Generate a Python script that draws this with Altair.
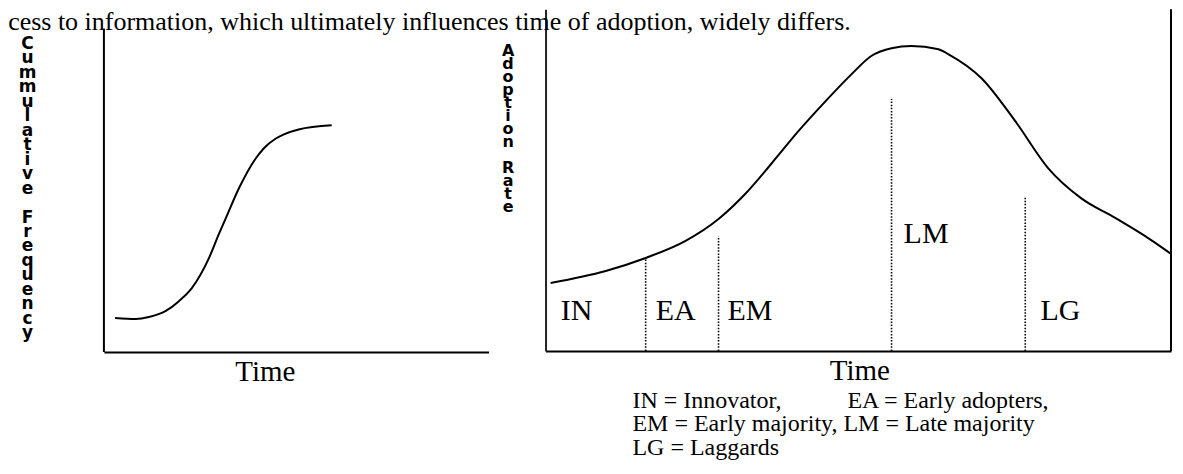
import altair as alt
import pandas as pd

# ---------- data ----------
# Left panel: cumulative frequency (S-curve)
cum_time = [0.29, 0.83, 1.17, 1.61, 1.95, 2.29, 2.73, 2.99, 3.17, 3.51, 3.95, 4.16, 4.47, 4.68, 5.06, 5.92]
cum_freq = [10.5, 10.2, 10.8, 12.7, 15.7, 19.8, 29.0, 36.5, 41.4, 50.6, 59.9, 63.0, 66.0, 67.3, 68.8, 70.1]

# Right panel: adoption rate (bell-shaped curve), ends at the right border
time_max = 9.87
adopt_time = [0.08, 0.95, 1.58, 2.21, 2.73, 3.15, 3.56, 3.99, 4.42, 4.83, 5.14, 5.46, 5.77,
              6.20, 6.36, 6.88, 7.41, 7.93, 8.45, 8.99, 9.51, 9.87]
adopt_rate = [19.9, 23.4, 27.2, 32.2, 38.6, 45.9, 54.7, 64.3, 73.1, 81.0, 86.3, 88.6, 89.2,
              88.3, 86.8, 79.8, 67.3, 53.5, 44.7, 38.9, 33.0, 28.4]

# Adopter categories
seg_codes = ["IN", "EA", "EM", "LM", "LG"]
seg_label_time = [0.24, 1.74, 2.87, 5.65, 7.81]
seg_label_level = [11.7, 11.7, 11.7, 34.2, 11.7]

# Dotted boundaries between categories
bound_time = [1.58, 2.73, 5.46, 7.57]
bound_top = [27.2, 33.6, 73.7, 45.0]

NBSP = "\u00a0"
BLANK = "\u2800"
legend_lines = [
    "IN = Innovator," + NBSP * 11 + "EA = Early adopters,",
    "EM = Early majority, LM = Late majority",
    "LG = Laggards",
]
sentence = "cess to information, which ultimately influences time of adoption, widely differs."
left_ytitle = list("Cummulative") + [BLANK] + list("Frequency")
right_ytitle = list("Adoption") + [BLANK] + list("Rate")

SERIF = "Liberation Serif"
HEAVY = "DejaVu Sans"

# ---------- left panel ----------
cum_df = pd.DataFrame({"t": cum_time, "f": cum_freq})
left_x = alt.Scale(domain=[0, 10], nice=False)
left_y = alt.Scale(domain=[0, 106], nice=False)

left_curve = alt.Chart(cum_df).mark_line(
    color="black", strokeWidth=2, interpolate="monotone"
).encode(
    x=alt.X("t:Q", scale=left_x, axis=alt.Axis(
        domain=True, domainColor="black", domainWidth=2, ticks=False, labels=False,
        grid=False, title="Time", titleFont=SERIF, titleFontSize=29,
        titleFontWeight="normal", titleColor="black", titleX=161, titleAlign="center",
        titlePadding=6)),
    y=alt.Y("f:Q", scale=left_y, axis=alt.Axis(
        domain=False, ticks=False, labels=False, grid=False, title=left_ytitle,
        titleAngle=0, titleFont=HEAVY, titleFontWeight="bold", titleFontSize=17,
        titleLineHeight=14.5, titleX=-77, titleY=26, titleAlign="center",
        titleBaseline="top", titleColor="black")),
)

left_axis_line = alt.Chart(pd.DataFrame({"t": [0], "lo": [0], "hi": [100]})).mark_rule(
    color="black", strokeWidth=2
).encode(x=alt.X("t:Q", scale=left_x), y=alt.Y("lo:Q", scale=left_y), y2="hi:Q")

left = alt.layer(left_curve, left_axis_line).properties(width=385, height=343)

# ---------- right panel ----------
ad_df = pd.DataFrame({"t": adopt_time, "r": adopt_rate})
right_x = alt.Scale(domain=[0, time_max], nice=False)
right_y = alt.Scale(domain=[0, 100], nice=False)

right_curve = alt.Chart(ad_df).mark_line(
    color="black", strokeWidth=2, interpolate="monotone"
).encode(
    x=alt.X("t:Q", scale=right_x, axis=alt.Axis(
        domain=True, domainColor="black", domainWidth=2, ticks=False, labels=False,
        grid=False, title="Time", titleFont=SERIF, titleFontSize=29,
        titleFontWeight="normal", titleColor="black", titleX=314, titleAlign="center",
        titlePadding=6)),
    y=alt.Y("r:Q", scale=right_y, axis=alt.Axis(
        domain=True, domainColor="#222222", domainWidth=2, ticks=False, labels=False,
        grid=False, title=right_ytitle, titleAngle=0, titleFont=HEAVY,
        titleFontWeight="bold", titleFontSize=16, titleLineHeight=13, titleX=-38,
        titleY=33, titleAlign="center", titleBaseline="top", titleColor="black")),
)

bounds_df = pd.DataFrame({"t": bound_time, "lo": [0] * len(bound_time), "hi": bound_top})
bound_lines = alt.Chart(bounds_df).mark_rule(
    color="black", strokeWidth=1.6, strokeDash=[1.5, 1.6]
).encode(x=alt.X("t:Q", scale=right_x), y=alt.Y("lo:Q", scale=right_y), y2="hi:Q")

labels_df = pd.DataFrame({"code": seg_codes, "t": seg_label_time, "lvl": seg_label_level})
seg_labels = alt.Chart(labels_df).mark_text(
    font=SERIF, fontSize=30, color="black", align="left", baseline="middle"
).encode(x=alt.X("t:Q", scale=right_x), y=alt.Y("lvl:Q", scale=right_y), text="code:N")

right_border = alt.Chart(pd.DataFrame({"t": [time_max], "lo": [0], "hi": [100]})).mark_rule(
    color="black", strokeWidth=2
).encode(x=alt.X("t:Q", scale=right_x), y=alt.Y("lo:Q", scale=right_y), y2="hi:Q")

right = alt.layer(right_curve, bound_lines, seg_labels, right_border).properties(
    width=626, height=342,
    title=alt.TitleParams(
        text=legend_lines, orient="bottom", anchor="start", frame="group",
        font=SERIF, fontSize=24, fontWeight="normal", color="black",
        lineHeight=23.5, dx=87, offset=3),
)

chart = alt.hconcat(left, right, spacing=57, bounds="flush").properties(
    title=alt.TitleParams(
        text=sentence, anchor="start", frame="bounds", font=SERIF, fontSize=26,
        fontWeight="normal", color="black", offset=-22, dy=26, dx=-10,
        baseline="alphabetic"),
    padding={"left": 0, "top": 0, "right": 0, "bottom": 0},
    background="white",
).configure_view(strokeWidth=0, stroke="transparent")

chart.save("out.html", embed_options={"renderer": "svg", "actions": False})
